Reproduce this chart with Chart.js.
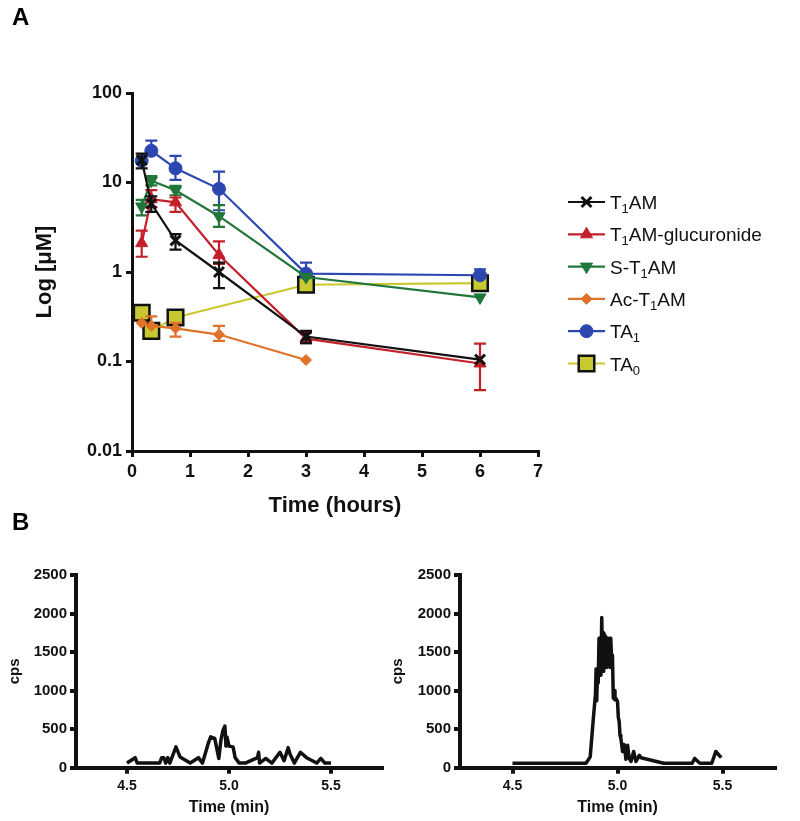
<!DOCTYPE html>
<html>
<head>
<meta charset="utf-8">
<script src="https://cdn.jsdelivr.net/npm/chart.js"></script>
<style>
body{margin:0;background:#fff;}
#page{position:relative;width:800px;height:821px;font-family:"Liberation Sans",Arial,sans-serif;}
canvas{position:absolute;}
.panel{position:absolute;font-weight:bold;font-size:24px;line-height:24px;}
</style>
</head>
<body>
<div id="page">
<canvas id="chartA" width="800" height="530" style="left:0;top:0"></canvas>
<canvas id="chartB1" width="400" height="281" style="left:0;top:540px"></canvas>
<canvas id="chartB2" width="415" height="281" style="left:385px;top:540px"></canvas>
<div class="panel" style="left:12px;top:5px">A</div>
<div class="panel" style="left:12px;top:510px">B</div>
</div>
<script>
// ---- panel A data (hours, µM) ----
const hours = [0.167, 0.333, 0.75, 1.5, 3, 6];
const hoursAc = [0.167, 0.333, 0.75, 1.5, 3];
const hoursTA0 = [0.167, 0.333, 0.75, 3, 6];

const t1am = [17.8, 5.8, 2.25, 1.0, 0.19, 0.105];
const t1amHi = [21, 7, 2.65, 1.27, 0.22, null];
const t1amLo = [14.4, 4.7, 1.78, 0.66, 0.16, null];

const gluc = [2.1, 6.5, 6.0, 1.55, 0.18, 0.095];
const glucHi = [2.9, 8.2, 6.8, 2.2, 0.21, 0.158];
const glucLo = [1.48, 5.3, 4.7, 1.23, 0.16, 0.048];

const sT1am = [5.4, 10.5, 8.2, 4.2, 0.88, 0.52];
const sT1amHi = [6.4, 11.8, 9.2, 5.6, null, null];
const sT1amLo = [4.3, 9.3, 7.2, 3.2, null, null];

const acT1am = [0.27, 0.25, 0.235, 0.2, 0.104];
const acT1amHi = [null, 0.32, 0.27, 0.25, null];
const acT1amLo = [null, null, 0.19, 0.17, null];

const ta1 = [17.5, 22.6, 14.4, 8.5, 0.96, 0.92];
const ta1Hi = [null, 29.3, 19.8, 13.2, 1.27, 1.07];
const ta1Lo = [null, null, 10.7, 4.9, null, null];

const ta0 = [0.35, 0.22, 0.31, 0.72, 0.75];

const seriesNames = ["T_1AM", "T_1AM-glucuronide", "S-T_1AM", "Ac-T_1AM", "TA_1", "TA_0"];
const yTickVals = [0.01, 0.1, 1, 10, 100];
const yTickLabels = ["0.01", "0.1", "1", "10", "100"];

// ---- panel B data (min, cps) ----
const timeB1 = [4.50, 4.54, 4.55, 4.66, 4.67, 4.68, 4.69, 4.70, 4.71, 4.74, 4.76, 4.81, 4.85, 4.87, 4.90, 4.91, 4.93, 4.94, 4.95, 4.96, 4.97, 4.98, 4.985, 4.99, 5.00, 5.02, 5.03, 5.05, 5.08, 5.14, 5.145, 5.15, 5.18, 5.21, 5.25, 5.27, 5.29, 5.30, 5.32, 5.35, 5.38, 5.43, 5.45, 5.47, 5.50];
const cpsB1 = [60, 130, 60, 60, 130, 130, 60, 130, 60, 270, 140, 60, 130, 60, 330, 400, 380, 250, 120, 350, 480, 540, 280, 400, 280, 270, 130, 60, 60, 130, 200, 60, 120, 60, 200, 90, 260, 170, 60, 200, 130, 60, 120, 60, 60];

const timeB2 = [4.50, 4.85, 4.87, 4.885, 4.895, 4.898, 4.901, 4.905, 4.908, 4.912, 4.915, 4.918, 4.921, 4.925, 4.928, 4.931, 4.934, 4.938, 4.941, 4.945, 4.948, 4.952, 4.956, 4.96, 4.964, 4.968, 4.972, 4.976, 4.98, 4.984, 4.988, 4.992, 5.00, 5.004, 5.008, 5.012, 5.016, 5.02, 5.024, 5.032, 5.04, 5.048, 5.056, 5.064, 5.077, 5.088, 5.104, 5.112, 5.22, 5.355, 5.368, 5.392, 5.449, 5.468, 5.494];
const cpsB2 = [57, 57, 140, 640, 950, 1280, 870, 1280, 1100, 1680, 1300, 1680, 1200, 1950, 1500, 1750, 1250, 1730, 1350, 1700, 1300, 1680, 1380, 1680, 1300, 1680, 1400, 1460, 900, 1000, 880, 900, 860, 650, 600, 420, 380, 300, 210, 300, 110, 290, 120, 80, 210, 80, 160, 130, 57, 57, 120, 57, 57, 210, 130];
const xTicksB = [4.5, 5.0, 5.5];

const FONT = "'Liberation Sans', Arial, sans-serif";

function pts(xs, ys) {
  return xs.map((x, i) => ({ x: x, y: ys[i] }));
}

// error bars drawn through the y scale
const errorBars = {
  id: "errorBars",
  afterDatasetDraw(chart, args) {
    const ds = chart.data.datasets[args.index];
    if (!ds.errHi) return;
    const ctx = chart.ctx;
    const ys = chart.scales.y;
    ctx.save();
    ctx.strokeStyle = ds.borderColor;
    ctx.lineWidth = 2.2;
    args.meta.data.forEach((p, i) => {
      [ds.errHi[i], ds.errLo[i]].forEach(v => {
        if (v == null) return;
        const py = ys.getPixelForValue(v);
        ctx.beginPath();
        ctx.moveTo(p.x, p.y);
        ctx.lineTo(p.x, py);
        ctx.moveTo(p.x - 6, py);
        ctx.lineTo(p.x + 6, py);
        ctx.stroke();
      });
    });
    ctx.restore();
  }
};

// legend with subscripts, to the right of the plot
const subLegend = {
  id: "subLegend",
  afterDraw(chart) {
    const ctx = chart.ctx;
    const area = chart.chartArea;
    const x0 = area.right + 30;
    let y = area.top + 109;
    ctx.save();
    chart.data.datasets.forEach(ds => {
      ctx.strokeStyle = ds.borderColor;
      ctx.lineWidth = 2.2;
      ctx.beginPath();
      ctx.moveTo(x0, y);
      ctx.lineTo(x0 + 37, y);
      ctx.stroke();
      ctx.fillStyle = ds.pointBackgroundColor;
      ctx.strokeStyle = ds.pointBorderColor;
      ctx.lineWidth = ds.pointBorderWidth;
      if (Chart.helpers && Chart.helpers.drawPoint) {
        Chart.helpers.drawPoint(ctx, {
          pointStyle: ds.pointStyle, rotation: ds.pointRotation || 0,
          radius: ds.pointRadius, borderWidth: ds.pointBorderWidth
        }, x0 + 18.5, y);
      }
      // label text, "_" marks a subscript character
      let tx = x0 + 42;
      ctx.fillStyle = "#111";
      ctx.textBaseline = "alphabetic";
      const parts = ds.label.split("_");
      parts.forEach((part, k) => {
        let main = part;
        if (k > 0) {
          ctx.font = "13px " + FONT;
          ctx.fillText(part[0], tx, y + 11);
          tx += ctx.measureText(part[0]).width;
          main = part.slice(1);
        }
        ctx.font = "19px " + FONT;
        ctx.fillText(main, tx, y + 7);
        tx += ctx.measureText(main).width;
      });
      y += 32.3;
    });
    ctx.restore();
  }
};

function series(label, xs, ys, hi, lo, color, style) {
  return Object.assign({
    label: label,
    data: pts(xs, ys),
    errHi: hi,
    errLo: lo,
    borderColor: color,
    borderWidth: 2.2,
    pointBackgroundColor: color,
    pointBorderColor: color,
    pointBorderWidth: 1,
    pointRadius: 7,
    tension: 0,
    fill: false
  }, style);
}

new Chart(document.getElementById("chartA"), {
  type: "line",
  data: {
    datasets: [
      series(seriesNames[0], hours, t1am, t1amHi, t1amLo, "#111111", { pointStyle: "crossRot", pointBorderWidth: 3, pointRadius: 7 }),
      series(seriesNames[1], hours, gluc, glucHi, glucLo, "#c3202b", { pointStyle: "triangle", pointRadius: 7 }),
      series(seriesNames[2], hours, sT1am, sT1amHi, sT1amLo, "#21773a", { pointStyle: "triangle", pointRotation: 180, pointRadius: 7 }),
      series(seriesNames[3], hoursAc, acT1am, acT1amHi, acT1amLo, "#e0722a", { pointStyle: "rectRot", pointRadius: 5.5 }),
      series(seriesNames[4], hours, ta1, ta1Hi, ta1Lo, "#2c47b0", { pointStyle: "circle", pointRadius: 6.5 }),
      series(seriesNames[5], hoursTA0, ta0, null, null, "#c9c92e", { pointStyle: "rect", pointRadius: 11, pointBorderColor: "#111111", pointBorderWidth: 2.5, pointBackgroundColor: "#c8c830" })
    ]
  },
  options: {
    responsive: false,
    animation: false,
    layout: { padding: { left: 0, right: 262, top: 93, bottom: 0 } },
    plugins: { legend: { display: false }, tooltip: { enabled: false } },
    scales: {
      x: {
        type: "linear", min: 0, max: 7,
        afterFit: s => { s.height = 79; },
        ticks: { stepSize: 1, color: "#111", padding: 4, font: { family: FONT, size: 18, weight: "bold" } },
        grid: { drawOnChartArea: false, drawTicks: true, tickLength: 6, color: "#111", lineWidth: 3 },
        border: { display: true, color: "#111", width: 3 },
        title: { display: true, text: "Time (hours)", color: "#111", padding: { top: 0, bottom: 11 }, font: { family: FONT, size: 22, weight: "bold" } }
      },
      y: {
        type: "logarithmic", min: 0.01, max: 100,
        afterFit: s => { s.width = 132; },
        afterBuildTicks: s => { s.ticks = yTickVals.map(v => ({ value: v, major: true })); },
        ticks: { color: "#111", padding: 4, autoSkip: false, font: { family: FONT, size: 18, weight: "bold" },
          callback: v => { const i = yTickVals.indexOf(v); return i >= 0 ? yTickLabels[i] : ""; } },
        grid: { drawOnChartArea: false, drawTicks: true, tickLength: 6, color: "#111", lineWidth: 3 },
        border: { display: true, color: "#111", width: 3 },
        title: { display: true, text: "Log [μM]", color: "#111", padding: { top: 32, bottom: 0 }, font: { family: FONT, size: 22, weight: "bold" } }
      }
    }
  },
  plugins: [errorBars, subLegend]
});

function trace(id, times, cps, leftW, rightPad, titlePad) {
  new Chart(document.getElementById(id), {
    type: "line",
    data: { datasets: [{ data: pts(times, cps), borderColor: "#111", borderWidth: 3.5, borderJoinStyle: "round", pointRadius: 0, tension: 0, fill: false }] },
    options: {
      responsive: false,
      animation: false,
      layout: { padding: { left: 0, right: rightPad, top: 35, bottom: 0 } },
      plugins: { legend: { display: false }, tooltip: { enabled: false } },
      scales: {
        x: {
          type: "linear", min: 4.25, max: 5.75,
          afterFit: s => { s.height = 53.3; },
          afterBuildTicks: s => { s.ticks = xTicksB.map(v => ({ value: v })); },
          ticks: { color: "#111", padding: 4, font: { family: FONT, size: 14, weight: "bold" }, callback: v => Number(v).toFixed(1) },
          grid: { drawOnChartArea: false, drawTicks: true, tickLength: 6, color: "#111", lineWidth: 4 },
          border: { display: true, color: "#111", width: 4 },
          title: { display: true, text: "Time (min)", color: "#111", padding: { top: 0, bottom: 4 }, font: { family: FONT, size: 16, weight: "bold" } }
        },
        y: {
          min: 0, max: 2500,
          afterFit: s => { s.width = leftW; },
          ticks: { stepSize: 500, color: "#111", padding: 3, font: { family: FONT, size: 15, weight: "bold" }, callback: v => String(v) },
          grid: { drawOnChartArea: false, drawTicks: true, tickLength: 6, color: "#111", lineWidth: 4 },
          border: { display: true, color: "#111", width: 4 },
          title: { display: true, text: "cps", color: "#111", padding: { top: titlePad, bottom: 0 }, font: { family: FONT, size: 15, weight: "bold" } }
        }
      }
    }
  });
}

trace("chartB1", timeB1, cpsB1, 76, 18, 6);
trace("chartB2", timeB2, cpsB2, 75, 25, 4);
</script>
</body>
</html>
